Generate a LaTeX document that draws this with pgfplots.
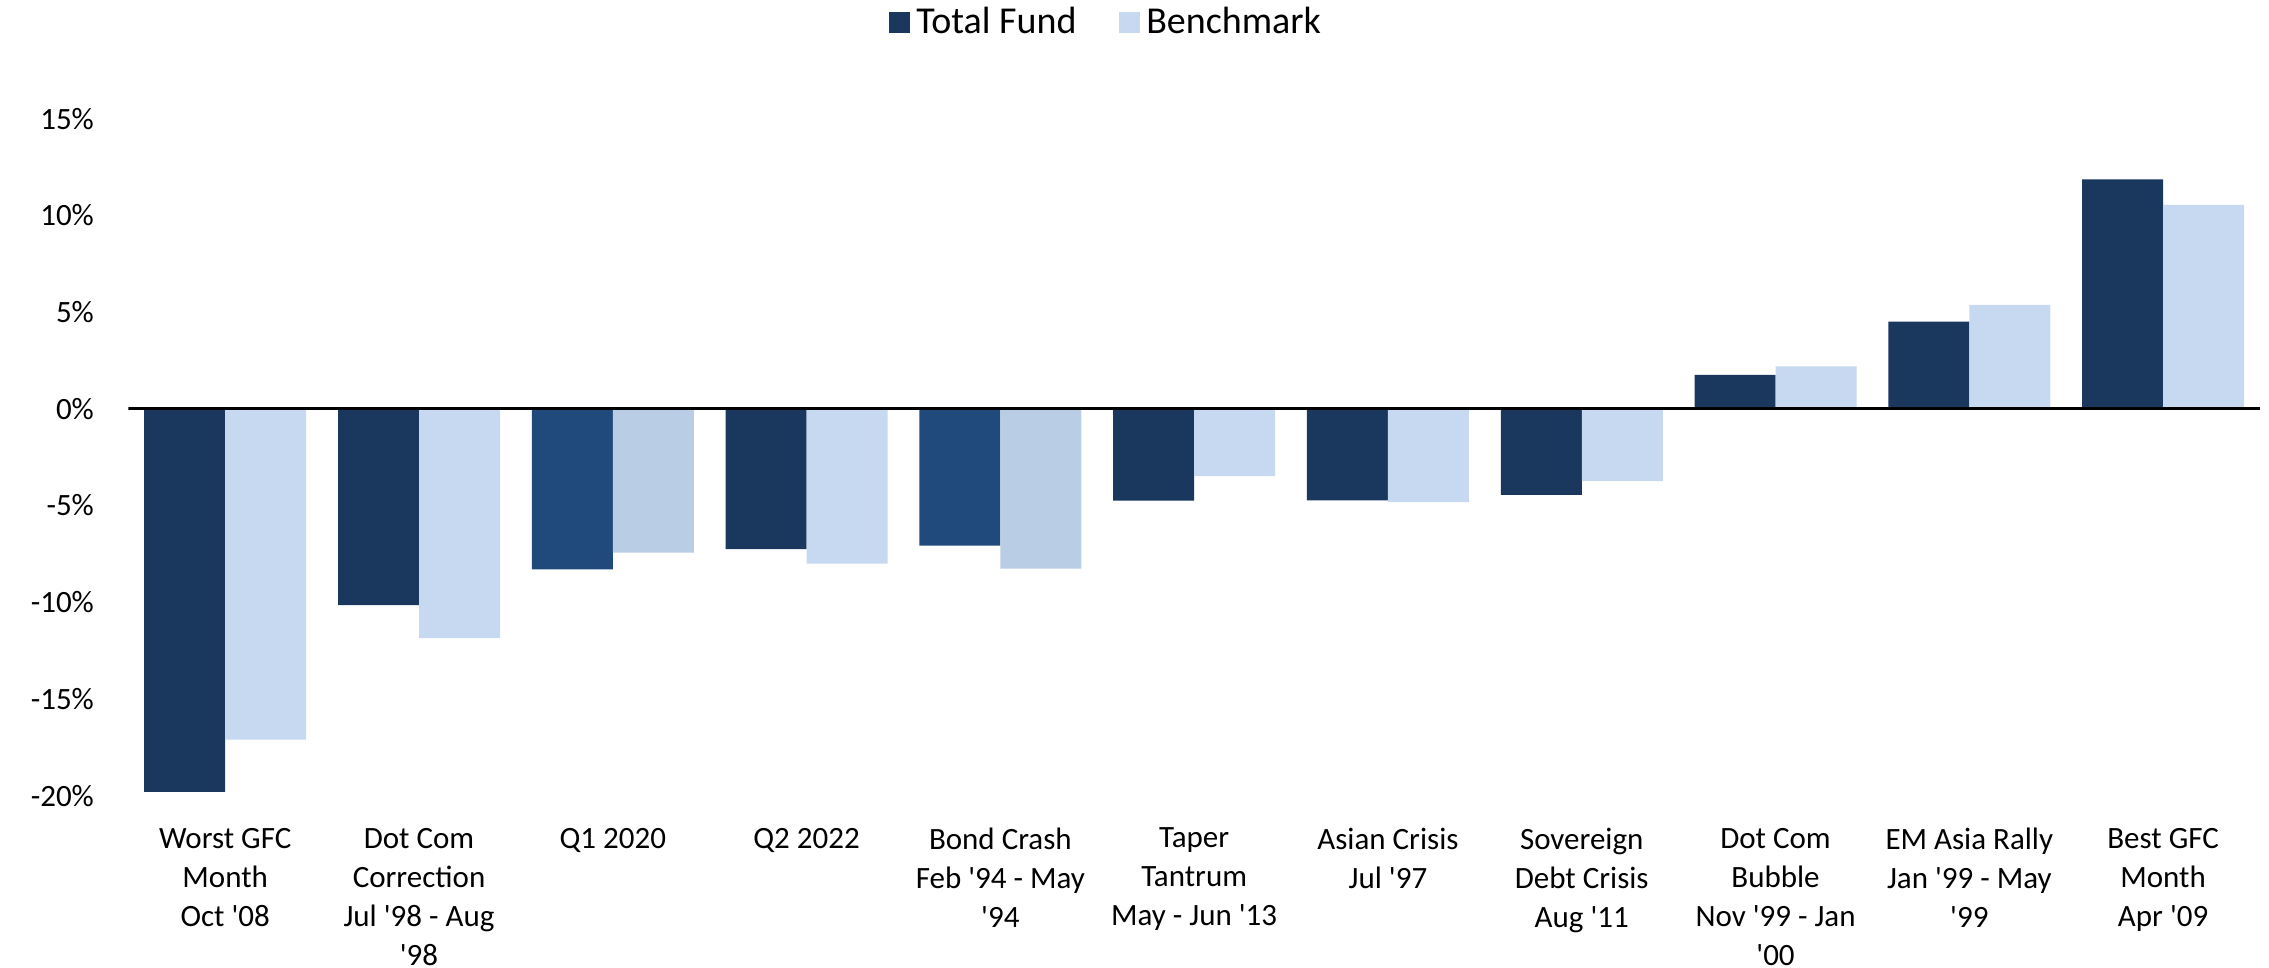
\documentclass[border=0pt]{standalone}
\usepackage{fontspec}
\setmainfont{Carlito}
\usepackage{pgfplots}
\pgfplotsset{compat=1.18}
\definecolor{tf}{HTML}{1A375E}
\definecolor{tfalt}{HTML}{204A7C}
\definecolor{bm}{HTML}{C7D9F0}
\definecolor{bmalt}{HTML}{B9CDE5}
\newcommand{\q}{\textquotesingle}
\begin{document}
\begin{tikzpicture}
\begin{axis}[
  name=ax,
  scale only axis,
  width=639.5pt, height=203.1pt,
  xmin=-0.5, xmax=10.5,
  ymin=-20, ymax=15,
  ybar,
  axis x line*=bottom, axis y line*=left,
  axis line style={draw=none},
  tick style={draw=none},
  ytick={-20,-15,-10,-5,0,5,10,15},
  yticklabels={-20\%,-15\%,-10\%,-5\%,0\%,5\%,10\%,15\%},
  yticklabel style={font=\fontsize{9.3}{11.7}\selectfont, xshift=-6.8pt},
  xtick={0,...,10},
  xticklabels={
    {Worst GFC\\Month\\Oct \q08},
    {Dot Com\\Correction\\Jul \q98 - Aug\\\q98},
    {Q1 2020},
    {Q2 2022},
    {Bond Crash\\Feb \q94 - May\\\q94},
    {Taper\\Tantrum\\May - Jun \q13},
    {Asian Crisis\\Jul \q97},
    {Sovereign\\Debt Crisis\\Aug \q11},
    {Dot Com\\Bubble\\Nov \q99 - Jan\\\q00},
    {EM Asia Rally\\Jan \q99 - May\\\q99},
    {Best GFC\\Month\\Apr \q09}},
  xticklabel style={font=\fontsize{9.3}{11.7}\selectfont, align=center, yshift=-1.9pt},
  legend columns=2,
  legend style={at={(0.459,1.1416)}, anchor=center, draw=none, fill=none,
    font=\fontsize{11.4}{13.5}\selectfont,
    nodes={inner sep=1pt},
    /tikz/every odd column/.append style={column sep=0.8pt},
    /tikz/every even column/.append style={column sep=11.8pt}},
  legend cell align=left,
  legend image code/.code={\fill[#1] (0pt,-3.1pt) rectangle (6.3pt,3.2pt);},
]
% total fund
\addplot[fill=tf, draw=none, bar width=24.3pt, bar shift=-12.15pt]
  coordinates {(0,-19.8) (1,-10.15) (3,-7.25) (5,-4.75) (6,-4.74) (7,-4.45) (8,1.76) (9,4.51) (10,11.86)};
\addlegendentry{Total Fund}
% benchmark
\addplot[fill=bm, draw=none, bar width=24.3pt, bar shift=12.15pt]
  coordinates {(0,-17.1) (1,-11.85) (3,-8.0) (5,-3.48) (6,-4.83) (7,-3.74) (8,2.19) (9,5.37) (10,10.54)};
\addlegendentry{Benchmark}
% the two bars drawn in other shades
\addplot[fill=tfalt, draw=none, bar width=24.3pt, bar shift=-12.15pt, forget plot]
  coordinates {(2,-8.3) (4,-7.07)};
\addplot[fill=bmalt, draw=none, bar width=24.3pt, bar shift=12.15pt, forget plot]
  coordinates {(2,-7.43) (4,-8.26)};
\draw[black, line width=0.8pt] (axis cs:-0.5,0) -- (axis cs:10.5,0);
\end{axis}
\pgfresetboundingbox
\path ([xshift=-38.5pt,yshift=-51.6pt]ax.south west) rectangle ([xshift=2.7pt,yshift=35.6pt]ax.north east);
\end{tikzpicture}
\end{document}
